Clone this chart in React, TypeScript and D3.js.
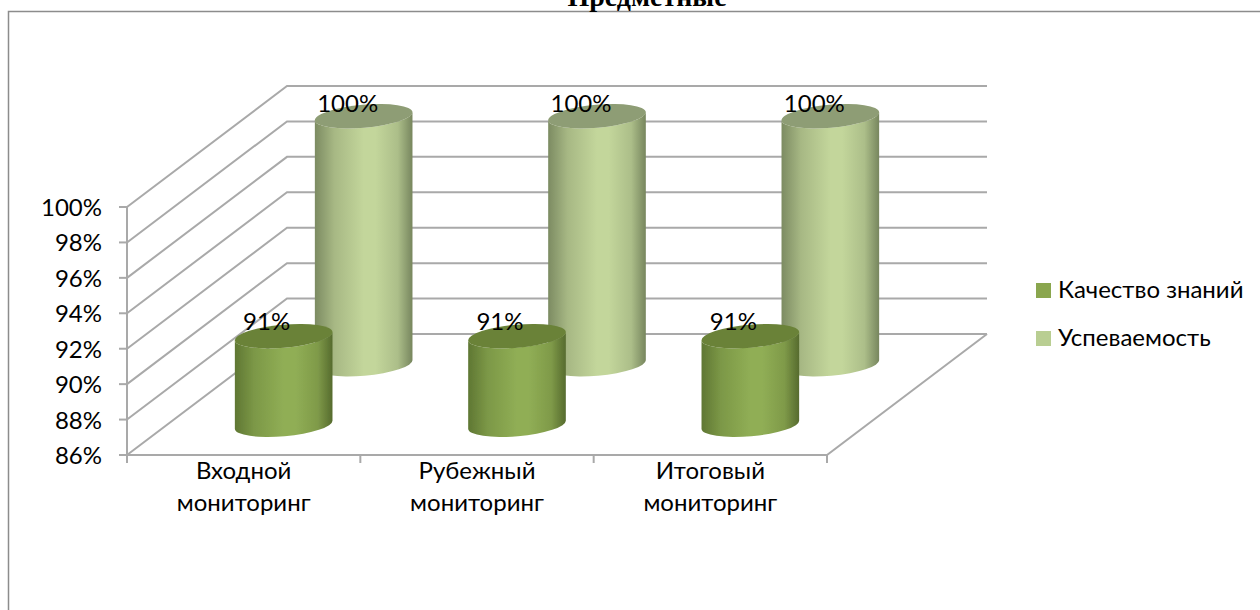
import React from "react";
import * as d3 from "d3";

const categories = [["Входной", "мониторинг"], ["Рубежный", "мониторинг"], ["Итоговый", "мониторинг"]];
const seriesNames = ["Качество знаний", "Успеваемость"];
const qualityValues = [91, 91, 91];
const progressValues = [100, 100, 100];
const yTicks = [86, 88, 90, 92, 94, 96, 98, 100];

const X0 = 127, X1 = 827, Y0 = 455, Y1 = 207, DX = 160, DY = -121;
const yScale = d3.scaleLinear().domain([86, 100]).range([Y0, Y1]);
const xScale = d3.scaleBand<number>().domain([0, 1, 2]).range([X0, X1]);
const depth = (t: number) => ({ x: DX * t, y: DY * t });
const GRID = "#a9a9a9";
const RX = 49, RY = 11.5, TILT = -5 * Math.PI / 180;

function ellipsePts(cx: number, cy: number) {
  const l = { x: cx - RX * Math.cos(TILT), y: cy - RX * Math.sin(TILT) };
  const r = { x: cx + RX * Math.cos(TILT), y: cy + RX * Math.sin(TILT) };
  return { l, r };
}

function Cylinder({ cat, value, t, grad, top }: { cat: number; value: number; t: number; grad: string; top: string }) {
  const d = depth(t);
  const cx = xScale(cat)! + xScale.bandwidth() / 2 + d.x;
  const yTop = yScale(value) + d.y;
  const yBot = yScale(86) + d.y;
  const a = ellipsePts(cx, yTop), b = ellipsePts(cx, yBot);
  const deg = (TILT * 180) / Math.PI;
  const body = `M${a.l.x},${a.l.y} L${b.l.x},${b.l.y} A${RX},${RY} ${deg} 0 0 ${b.r.x},${b.r.y} L${a.r.x},${a.r.y} A${RX},${RY} ${deg} 0 1 ${a.l.x},${a.l.y} Z`;
  return (
    <g filter="url(#soft)">
      <path d={body} fill={`url(#${grad})`} />
      <ellipse cx={cx} cy={yTop} rx={RX} ry={RY} fill={top} transform={`rotate(${deg} ${cx} ${yTop})`} />
    </g>
  );
}

function Stops({ edgeL, mid, edgeR }: { edgeL: string; mid: string; edgeR: string }) {
  return (
    <>
      <stop offset="0" stopColor={edgeL} />
      <stop offset="0.2" stopColor={d3.interpolateRgb(edgeL, mid)(0.6)} />
      <stop offset="0.5" stopColor={mid} />
      <stop offset="0.62" stopColor={mid} />
      <stop offset="0.85" stopColor={d3.interpolateRgb(edgeR, mid)(0.7)} />
      <stop offset="1" stopColor={edgeR} />
    </>
  );
}

export default function App() {
  const font = "Lato, 'Open Sans', sans-serif";
  const back = depth(1);
  return (
    <svg width={1260} height={610} style={{ position: "absolute", left: 0, top: 0, background: "#fff" }}>
      <defs>
        <linearGradient id="gFront" x1="0" x2="1" y1="0" y2="0">
          <Stops edgeL="#5f7733" mid="#90ae55" edgeR="#566b2e" />
        </linearGradient>
        <linearGradient id="gBack" x1="0" x2="1" y1="0" y2="0">
          <Stops edgeL="#7c8b62" mid="#c3d69b" edgeR="#77865e" />
        </linearGradient>
        <filter id="soft" x="-5%" y="-5%" width="110%" height="110%">
          <feGaussianBlur stdDeviation="0.6" />
        </filter>
      </defs>

      <path d="M8.5,610 V11.5 H1260" fill="none" stroke="#8c8c8c" strokeWidth={1.5} />
      <text x={647} y={6} textAnchor="middle" fontFamily="'Liberation Serif', serif" fontWeight="bold" fontSize={28} fill="#000">Предметные</text>

      <g stroke={GRID} strokeWidth={2} fill="none" filter="url(#soft)">
        {yTicks.map((v) => (
          <path key={v} d={`M${X0},${yScale(v)} L${X0 + back.x},${yScale(v) + back.y} H${X1 + back.x}`} />
        ))}
        <path d={`M${X0},${Y0} H${X1} L${X1 + back.x},${Y0 + back.y}`} />
        <path d={`M${X0},${Y1} V${Y0}`} />
        {yTicks.map((v) => (
          <path key={v} d={`M${X0 - 8},${yScale(v)} H${X0}`} />
        ))}
        {[0, 1, 2, 3].map((i) => {
          const x = X0 + i * xScale.step();
          return <path key={i} d={`M${x},${Y0} V${Y0 + 8}`} />;
        })}
      </g>

      {categories.map((_, i) => (
        <Cylinder key={i} cat={i} value={progressValues[i]} t={0.75} grad="gBack" top="#8e9d74" />
      ))}
      {categories.map((_, i) => (
        <Cylinder key={i} cat={i} value={qualityValues[i]} t={0.25} grad="gFront" top="#6a8238" />
      ))}

      <g fontFamily={font} fontSize={24} fill="#000">
        {yTicks.map((v) => (
          <text key={v} x={102} y={yScale(v) + 9} textAnchor="end">{v}%</text>
        ))}
        {categories.map((c, i) => (
          <text key={i} textAnchor="middle">
            <tspan x={xScale(i)! + xScale.bandwidth() / 2} y={479}>{c[0]}</tspan>
            <tspan x={xScale(i)! + xScale.bandwidth() / 2} y={511}>{c[1]}</tspan>
          </text>
        ))}
        {categories.map((_, i) => {
          const d = depth(0.75);
          return (
            <text key={i} x={xScale(i)! + xScale.bandwidth() / 2 + d.x - 16} y={yScale(progressValues[i]) + d.y - 4} textAnchor="middle">
              {progressValues[i]}%
            </text>
          );
        })}
        {categories.map((_, i) => {
          const d = depth(0.25);
          return (
            <text key={i} x={xScale(i)! + xScale.bandwidth() / 2 + d.x - 17} y={yScale(qualityValues[i]) + d.y - 6} textAnchor="middle">
              {qualityValues[i]}%
            </text>
          );
        })}
        {seriesNames.map((n, i) => (
          <g key={n}>
            <rect x={1036} y={283 + i * 48} width={15} height={15} fill={i === 0 ? "#8aa64e" : "#b9ce92"} />
            <text x={1058} y={298 + i * 48}>{n}</text>
          </g>
        ))}
      </g>
    </svg>
  );
}
